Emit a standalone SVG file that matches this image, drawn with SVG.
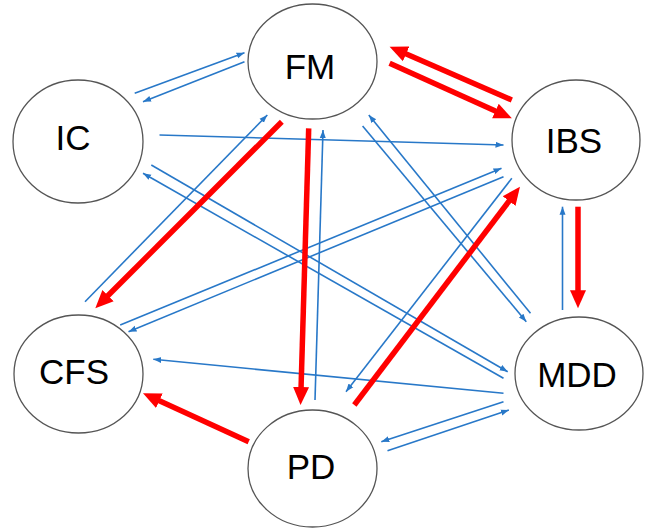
<svg xmlns="http://www.w3.org/2000/svg" width="648" height="530" viewBox="0 0 648 530">
<defs>
<marker id="ab" markerUnits="userSpaceOnUse" markerWidth="10" markerHeight="8" refX="8" refY="0" viewBox="0 -4 10 8" orient="auto"><path d="M0,-3 L8,0 L0,3 z" fill="#2878c8"/></marker>
<marker id="ar" markerUnits="userSpaceOnUse" markerWidth="20" markerHeight="18" refX="6" refY="0" viewBox="0 -9 20 18" orient="auto"><path d="M0,-8 L18,0 L0,8 z" fill="#ff0000"/></marker>
<style>
.n{fill:#fff;stroke:#555;stroke-width:1.3}
.t{font-family:"Liberation Sans",Arial,sans-serif;font-size:35px;fill:#000;text-anchor:middle}
.b{stroke:#2878c8;stroke-width:1.6;fill:none;marker-end:url(#ab)}
.r{stroke:#ff0000;stroke-width:5.5;fill:none;marker-end:url(#ar)}
</style>
</defs>
<rect width="648" height="530" fill="#fff"/>
<g id="nodes">
<g id="FM"><ellipse class="n" cx="312.5" cy="61.5" rx="64.5" ry="57.5"/><text class="t" x="310" y="78.5">FM</text></g>
<g id="IC"><ellipse class="n" cx="78" cy="141.5" rx="65" ry="61.5"/><text class="t" x="73" y="150">IC</text></g>
<g id="IBS"><ellipse class="n" cx="576" cy="140" rx="64" ry="60"/><text class="t" x="574" y="153">IBS</text></g>
<g id="CFS"><ellipse class="n" cx="78.5" cy="374" rx="64.5" ry="59"/><text class="t" x="74" y="384">CFS</text></g>
<g id="MDD"><ellipse class="n" cx="579" cy="373.5" rx="64" ry="56.5"/><text class="t" x="577" y="386.5">MDD</text></g>
<g id="PD"><ellipse class="n" cx="312.5" cy="468.5" rx="64.5" ry="58.5"/><text class="t" x="311" y="479">PD</text></g>
</g>
<g id="connectors">
<line class="b" x1="134.7" y1="93.3" x2="244.5" y2="52.7"/>
<line class="b" x1="244.5" y1="61.7" x2="143" y2="101.7"/>
<line class="b" x1="159.5" y1="135" x2="503.5" y2="145"/>
<line class="b" x1="85" y1="301.7" x2="267.3" y2="115"/>
<line class="b" x1="315" y1="400" x2="323" y2="130"/>
<line class="b" x1="530.5" y1="313.3" x2="368.8" y2="115"/>
<line class="b" x1="362.6" y1="126" x2="526.3" y2="321.7"/>
<line class="b" x1="151.3" y1="165" x2="507.7" y2="371.7"/>
<line class="b" x1="503.5" y1="378.3" x2="143" y2="173.3"/>
<line class="b" x1="120.2" y1="325" x2="501.5" y2="168.3"/>
<line class="b" x1="503.5" y1="176.7" x2="128.5" y2="331.7"/>
<line class="b" x1="511.8" y1="178.3" x2="346" y2="391.7"/>
<line class="b" x1="562.5" y1="310" x2="562.5" y2="206.7"/>
<line class="b" x1="503.5" y1="393.3" x2="153.3" y2="359.3"/>
<line class="b" x1="503.5" y1="401.7" x2="381.3" y2="441.7"/>
<line class="b" x1="387.5" y1="450.7" x2="508.9" y2="410"/>
<line class="r" x1="389.6" y1="63.3" x2="500.9" y2="113.4"/>
<line class="r" x1="511.8" y1="100" x2="400.6" y2="51.5"/>
<line class="r" x1="281.8" y1="121.7" x2="103.8" y2="299.8"/>
<line class="r" x1="308.7" y1="128.3" x2="300.9" y2="393"/>
<line class="r" x1="354.3" y1="405" x2="512.7" y2="196.3"/>
<line class="r" x1="578" y1="206.7" x2="578" y2="296.3"/>
<line class="r" x1="248.7" y1="441.7" x2="153.9" y2="398.3"/>
</g>
</svg>
